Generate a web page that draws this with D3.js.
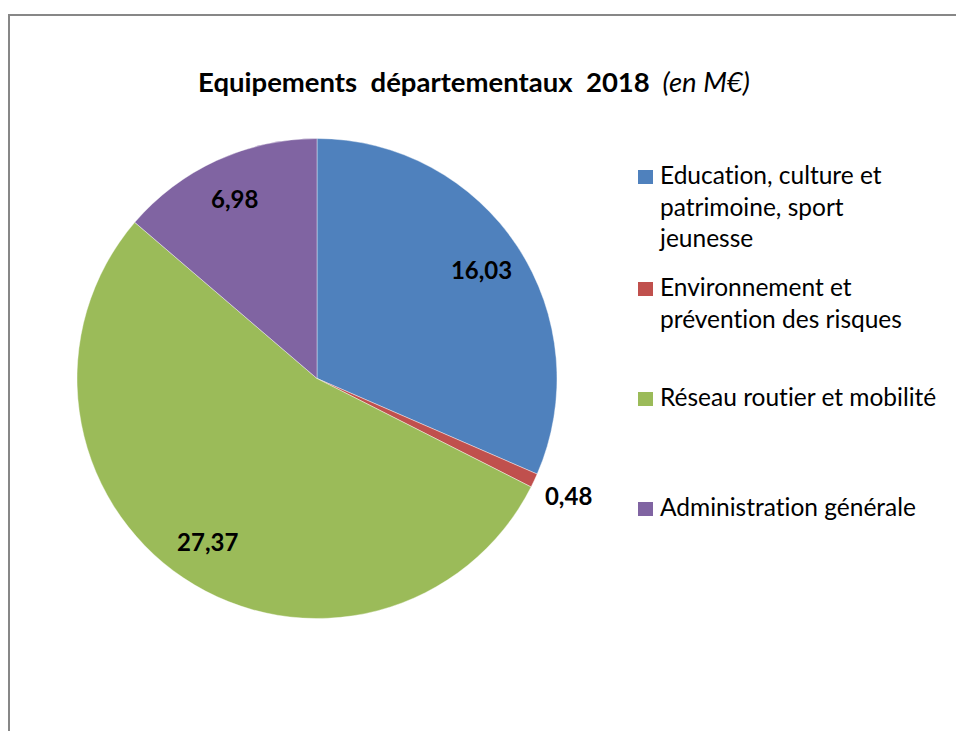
<!DOCTYPE html>
<html>
<head>
<meta charset="utf-8">
<script src="https://cdn.jsdelivr.net/npm/d3@7"></script>
<style>
  body { margin: 0; background: #fff; }
  svg { display: block; font-family: Lato, "Open Sans", sans-serif; font-variant-ligatures: none; }
  text { white-space: pre; }
</style>
</head>
<body>
<div id="chart"></div>
<script>
// data
const categories = [
    "Education, culture et patrimoine, sport jeunesse",
    "Environnement et prévention des risques",
    "Réseau routier et mobilité",
    "Administration générale"
];
const legendLines = [
    ["Education, culture et", "patrimoine, sport", "jeunesse"],
    ["Environnement et", "prévention des risques"],
    ["Réseau routier et mobilité"],
    ["Administration générale"]
];
const values = [16.03, 0.48, 27.37, 6.98];
const valueLabels = ["16,03", "0,48", "27,37", "6,98"];
const colors = ["#4F81BD", "#C0504D", "#9BBB59", "#8064A2"];

const width = 956, height = 731;
const cx = 317, cy = 378.5, radius = 240;

const svg = d3.select("#chart")
    .append("svg")
        .attr("width", width)
        .attr("height", height);

// chart frame (runs off the right and bottom edges)
svg.append("rect")
    .attr("x", 9)
    .attr("y", 15)
    .attr("width", 1000)
    .attr("height", 800)
    .attr("fill", "#fff")
    .attr("stroke", "#878787")
    .attr("stroke-width", 2);

// title
const title = svg.append("text")
    .attr("x", 474)
    .attr("y", 92)
    .attr("text-anchor", "middle")
    .style("font-size", "27.5px")
    .attr("fill", "#000");
title.append("tspan")
    .style("font-weight", "bold")
    .text("Equipements  départementaux  2018");
title.append("tspan")
    .style("font-style", "italic")
    .text("  (en M€)");

const color = d3.scaleOrdinal().domain(categories).range(colors);

const pie = d3.pie()
    .sort(null)
    .value(function(d, i) { return values[i]; });

const arcs = pie(categories);

const arc = d3.arc()
    .innerRadius(0)
    .outerRadius(radius);

const labelArc = d3.arc()
    .innerRadius(radius * 0.82)
    .outerRadius(radius * 0.82);

const outerLabelArc = d3.arc()
    .innerRadius(radius + 38)
    .outerRadius(radius + 38);

const g = svg.append("g")
    .attr("transform", "translate(" + cx + "," + cy + ")");

g.selectAll("path.slice")
    .data(arcs)
    .enter()
    .append("path")
        .attr("class", "slice")
        .attr("d", arc)
        .attr("fill", function(d) { return color(d.data); })
        .attr("stroke", "#fff")
        .attr("stroke-width", 0.4);

// small slices get their label outside
g.selectAll("text.val")
    .data(arcs)
    .enter()
    .append("text")
        .attr("class", "val")
        .attr("transform", function(d) {
            const small = (d.endAngle - d.startAngle) < 0.2;
            const p = small ? outerLabelArc.centroid(d) : labelArc.centroid(d);
            return "translate(" + p + ")";
        })
        .attr("text-anchor", "middle")
        .attr("dy", "0.36em")
        .style("font-size", "24px")
        .style("font-weight", "bold")
        .attr("fill", "#000")
        .text(function(d, i) { return valueLabels[i]; });

// legend
const legendY = [184, 296, 406, 516];
const lineStep = 31.5;

const legend = svg.selectAll("g.legend")
    .data(categories)
    .enter()
    .append("g")
        .attr("class", "legend")
        .attr("transform", function(d, i) { return "translate(638," + legendY[i] + ")"; });

legend.append("rect")
    .attr("x", 0)
    .attr("y", -14)
    .attr("width", 15)
    .attr("height", 14)
    .attr("fill", function(d) { return color(d); });

legend.append("text")
    .style("font-size", "24.5px")
    .attr("fill", "#000")
    .selectAll("tspan")
    .data(function(d, i) { return legendLines[i]; })
    .enter()
    .append("tspan")
        .attr("x", 22)
        .attr("y", function(d, j) { return j * lineStep; })
        .text(function(d) { return d; });
</script>
</body>
</html>
